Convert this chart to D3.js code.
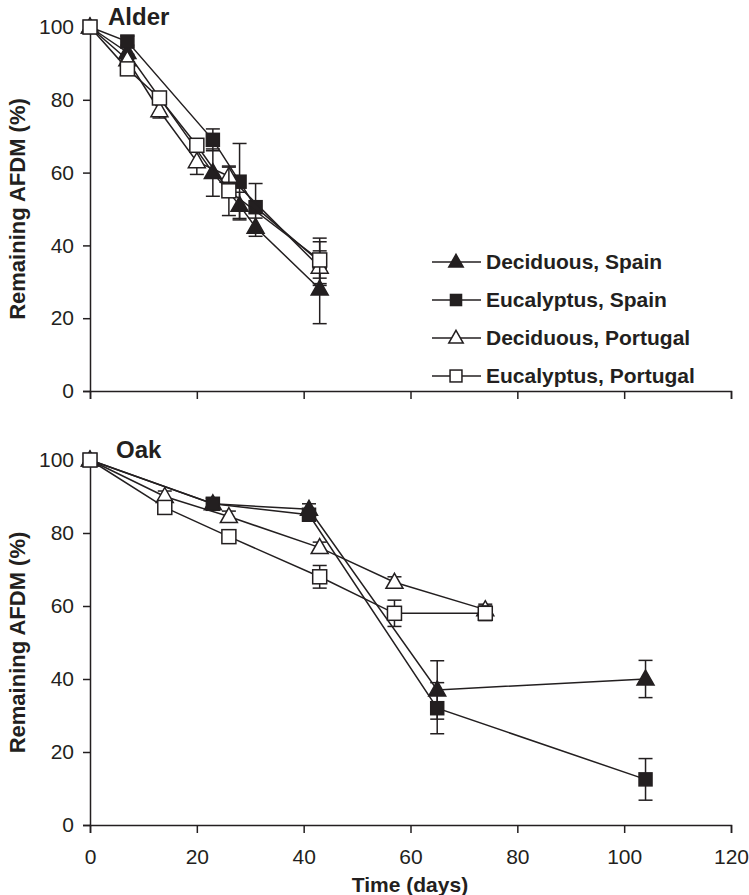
<!DOCTYPE html>
<html>
<head>
<meta charset="utf-8">
<script src="https://cdn.jsdelivr.net/npm/d3@7"></script>
<style>
  body { margin: 0; background: #fff; }
  text { font-family: "Liberation Sans", Arial, sans-serif; fill: #231f20; }
</style>
</head>
<body>
<svg id="chart" width="749" height="895"></svg>
<script>
// series names (legend order)
const seriesNames = ["Deciduous, Spain", "Eucalyptus, Spain", "Deciduous, Portugal", "Eucalyptus, Portugal"]
const xTicks = [0, 20, 40, 60, 80, 100, 120]
const yTicks = [0, 20, 40, 60, 80, 100]

// Alder
const alderSpainDays = [0, 7, 23, 28, 31, 43]
const alderPortugalDays = [0, 7, 13, 20, 26, 43]
const alderDecSpain = [100, 93, 60, 51, 45, 28]
const alderDecSpainErr = [0, 2, 6.5, 3.6, 2.5, 9.5]
const alderEucSpain = [100, 96, 69, 57.5, 50.5, 35.5]
const alderEucSpainErr = [0, 1.5, 3, 10.5, 6.5, 6.5]
const alderDecPort = [100, 91, 77, 63, 59, 34]
const alderDecPortErr = [0, 1.5, 2, 3.5, 2.5, 4.5]
const alderEucPort = [100, 88.5, 80.5, 67.5, 55, 36]
const alderEucPortErr = [0, 1, 1, 1.5, 6.8, 5]

// Oak
const oakSpainDays = [0, 23, 41, 65, 104]
const oakPortugalDays = [0, 14, 26, 43, 57, 74]
const oakDecSpain = [100, 88, 86.5, 37, 40]
const oakDecSpainErr = [0, 1.5, 1.5, 8, 5.1]
const oakEucSpain = [100, 88, 85, 32, 12.5]
const oakEucSpainErr = [0, 1.5, 1.5, 7, 5.7]
const oakDecPort = [100, 90, 84.5, 76, 66.5, 59]
const oakDecPortErr = [0, 1.5, 1.5, 1.5, 1.5, 1.5]
const oakEucPort = [100, 87, 79, 68, 58, 58]
const oakEucPortErr = [0, 1, 1, 3.1, 3.6, 2]

const markers = ["triFill", "sqFill", "triOpen", "sqOpen"]
const ink = "#231f20"

const svg = d3.select("#chart")
const x = d3.scaleLinear().domain([0, 120]).range([90, 731])

function zip(days, vals, errs) {
  return days.map((d, i) => ({ d: d, v: vals[i], e: errs[i] }))
}

const panels = [
  {
    title: "Alder", y0: 391, y1: 27, labels: false,
    series: [
      zip(alderSpainDays, alderDecSpain, alderDecSpainErr),
      zip(alderSpainDays, alderEucSpain, alderEucSpainErr),
      zip(alderPortugalDays, alderDecPort, alderDecPortErr),
      zip(alderPortugalDays, alderEucPort, alderEucPortErr)
    ]
  },
  {
    title: "Oak", y0: 825, y1: 460, labels: true,
    series: [
      zip(oakSpainDays, oakDecSpain, oakDecSpainErr),
      zip(oakSpainDays, oakEucSpain, oakEucSpainErr),
      zip(oakPortugalDays, oakDecPort, oakDecPortErr),
      zip(oakPortugalDays, oakEucPort, oakEucPortErr)
    ]
  }
]

function drawMarker(g, type, cx, cy, k) {
  k = k || 1
  if (type === "triFill" || type === "triOpen") {
    const w = 8.5 * k, h = 15 * k
    g.append("path")
      .attr("d", `M${cx},${cy - h * 0.6}L${cx + w},${cy + h * 0.4}L${cx - w},${cy + h * 0.4}Z`)
      .attr("fill", type === "triFill" ? ink : "#fff")
      .attr("stroke", ink).attr("stroke-width", 1.5)
  } else {
    const s = (type === "sqFill" ? 13 : 14) * k
    g.append("rect")
      .attr("x", cx - s / 2).attr("y", cy - s / 2)
      .attr("width", s).attr("height", s)
      .attr("fill", type === "sqFill" ? ink : "#fff")
      .attr("stroke", ink).attr("stroke-width", 1.5)
  }
}

panels.forEach(p => {
  const y = d3.scaleLinear().domain([0, 100]).range([p.y0, p.y1])
  const g = svg.append("g")

  // axes
  const yAxis = d3.axisLeft(y).tickValues(yTicks).tickSize(7).tickPadding(9)
  g.append("g").attr("transform", "translate(90,0)").call(yAxis)
  const xAxis = d3.axisBottom(x).tickValues(xTicks).tickSize(8).tickPadding(16)
  if (!p.labels) xAxis.tickFormat("")
  g.append("g").attr("transform", `translate(0,${p.y0})`).call(xAxis)
  g.selectAll(".domain").attr("stroke", ink).attr("stroke-width", 1.5)
  g.selectAll(".tick line").attr("stroke", ink).attr("stroke-width", 1.5)
  g.selectAll(".tick text").attr("font-size", 21).style("fill", ink)

  // y title
  g.append("text")
    .attr("transform", `translate(25,${(p.y0 + p.y1) / 2}) rotate(-90)`)
    .attr("text-anchor", "middle")
    .attr("font-size", 22).attr("font-weight", "bold")
    .text("Remaining AFDM (%)")

  g.append("text")
    .attr("x", p.title === "Alder" ? 108 : 116)
    .attr("y", p.y1 - 2)
    .attr("font-size", 24).attr("font-weight", "bold")
    .text(p.title)

  const line = d3.line().x(d => x(d.d)).y(d => y(d.v))

  p.series.forEach((s, si) => {
    const sg = g.append("g")
    // error bars
    s.filter(d => d.e > 0).forEach(d => {
      const cx = x(d.d)
      sg.append("line").attr("x1", cx).attr("x2", cx)
        .attr("y1", y(d.v - d.e)).attr("y2", y(d.v + d.e))
        .attr("stroke", ink).attr("stroke-width", 1.5)
      ;[d.v - d.e, d.v + d.e].forEach(v => {
        sg.append("line").attr("x1", cx - 7).attr("x2", cx + 7)
          .attr("y1", y(v)).attr("y2", y(v))
          .attr("stroke", ink).attr("stroke-width", 1.5)
      })
    })
    sg.append("path").datum(s).attr("d", line)
      .attr("fill", "none").attr("stroke", ink).attr("stroke-width", 1.5)
    s.forEach(d => drawMarker(sg, markers[si], x(d.d), y(d.v)))
  })
})

// x title
svg.append("text").attr("x", 410).attr("y", 892)
  .attr("text-anchor", "middle").attr("font-size", 21).attr("font-weight", "bold")
  .text("Time (days)")

// legend
const legendY = [262, 300, 338, 376]
const legend = svg.append("g")
seriesNames.forEach((name, i) => {
  const ly = legendY[i]
  legend.append("line").attr("x1", 432).attr("x2", 481).attr("y1", ly).attr("y2", ly)
    .attr("stroke", ink).attr("stroke-width", 1.5)
  drawMarker(legend, markers[i], 456, ly, 0.85)
  legend.append("text").attr("x", 486).attr("y", ly).attr("dy", "0.35em")
    .attr("font-size", 21).attr("font-weight", "bold")
    .text(name)
})
</script>
</body>
</html>
